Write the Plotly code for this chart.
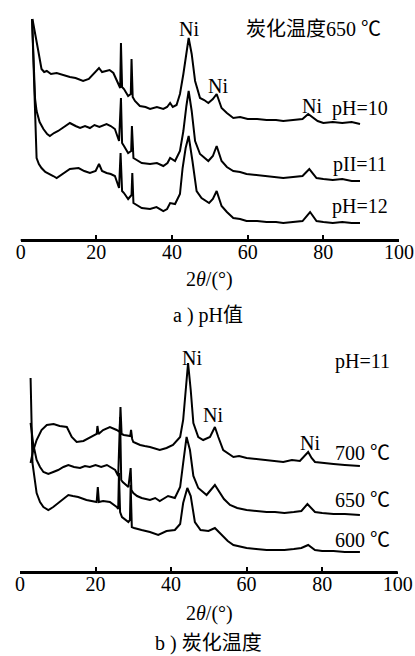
import plotly.graph_objects as go

# ---------- panel a) pH ----------
a_ph10_x = [3.1, 3.5, 4.0, 4.65, 5.5, 6.2, 6.9, 8.0, 9.5, 11.0, 13.0, 14.5, 16.5, 18.0, 19.6, 20.7, 21.5, 22.5, 23.5, 24.5, 25.8, 26.3, 26.5, 26.8, 27.3, 28.4, 29.1, 29.3, 29.6, 30.2, 31.5, 33.0, 34.2, 36.0, 37.7, 38.7, 39.5, 40.2, 41.2, 42.1, 43.0, 43.8, 44.4, 45.2, 46.1, 47.4, 48.5, 49.6, 50.8, 51.8, 53.1, 54.5, 56.2, 58.0, 60.0, 62.5, 65.0, 67.5, 69.4, 72.0, 74.5, 76.0, 77.2, 78.5, 80.0, 82.5, 85.0, 87.5, 89.7]
a_ph10_y = [221, 212, 200, 189, 171, 168, 169, 166, 167, 165, 163, 162, 159, 161, 167, 172, 168, 169, 170, 167, 156, 152, 197, 153, 151, 144, 146, 181, 143, 139, 134, 133, 131, 133, 131, 133, 137, 133, 135, 146, 166, 188, 202, 186, 159, 142, 140, 137, 141, 146, 132, 127, 122, 123, 121, 121, 120, 120, 119, 120, 121, 126, 123, 119, 117, 118, 117, 118, 116]

a_ph11_x = [3.0, 3.4, 3.8, 4.2, 5.0, 6.0, 7.0, 7.7, 8.8, 9.9, 11.5, 13.0, 14.5, 15.7, 17.0, 18.3, 19.5, 20.8, 22.7, 23.8, 24.9, 26.0, 26.5, 26.8, 27.3, 28.4, 29.2, 29.4, 29.8, 31.0, 32.0, 34.2, 36.0, 37.7, 38.8, 39.5, 40.8, 42.1, 43.0, 43.8, 44.4, 45.2, 46.1, 47.4, 48.5, 49.6, 50.8, 51.8, 53.1, 54.5, 56.2, 58.0, 59.7, 62.5, 65.0, 67.5, 69.4, 72.0, 74.5, 76.3, 77.2, 78.2, 80.0, 82.5, 85.0, 87.5, 89.7]
a_ph11_y = [221, 180, 141, 129, 118, 111, 106, 104, 107, 109, 113, 117, 114, 112, 114, 112, 115, 113, 116, 114, 111, 99, 142, 97, 94, 87, 89, 114, 82, 79, 77, 76, 77, 74, 77, 82, 79, 89, 109, 134, 149, 129, 99, 86, 82, 79, 84, 94, 79, 73, 69, 68, 66, 65, 64, 63, 62, 63, 64, 71, 67, 62, 61, 60, 61, 59, 59]

a_ph12_x = [3.0, 3.4, 3.8, 4.2, 4.8, 5.5, 6.5, 7.7, 8.6, 9.5, 11.0, 13.0, 15.3, 16.8, 18.3, 19.8, 20.7, 21.5, 22.7, 23.8, 24.9, 26.0, 26.4, 26.8, 27.3, 28.4, 29.3, 29.5, 29.8, 31.0, 32.0, 34.2, 35.9, 37.7, 38.7, 39.5, 40.8, 42.1, 42.8, 43.6, 44.4, 45.4, 46.5, 47.8, 49.8, 50.8, 51.8, 53.1, 54.5, 56.2, 58.0, 59.7, 62.5, 65.0, 67.5, 69.4, 72.0, 74.5, 76.5, 77.5, 78.2, 80.0, 82.5, 85.0, 87.5, 89.7]
a_ph12_y = [221, 170, 115, 82, 76, 72, 68, 66, 64, 62, 66, 71, 72, 69, 67, 69, 76, 69, 67, 66, 64, 52, 87, 49, 47, 41, 45, 67, 37, 34, 32, 31, 33, 29, 31, 37, 36, 46, 72, 92, 104, 79, 49, 42, 37, 41, 49, 34, 28, 22, 21, 19, 19, 18, 18, 17, 18, 19, 28, 23, 19, 18, 17, 18, 17, 17]

# ---------- panel b) carbonization temperature ----------
b_t700_x = [2.8, 3.4, 4.4, 5.7, 7.1, 8.9, 10.5, 12.4, 13.7, 15.0, 16.8, 19.0, 20.3, 20.5, 20.8, 22.0, 23.8, 25.6, 26.4, 26.6, 26.9, 27.5, 29.2, 29.4, 29.7, 30.0, 31.8, 33.0, 34.4, 37.0, 38.8, 40.5, 42.4, 43.2, 44.0, 44.5, 45.2, 45.9, 47.2, 48.5, 50.3, 51.6, 52.5, 53.8, 56.5, 58.0, 60.0, 62.5, 65.3, 67.5, 69.7, 72.0, 74.1, 76.3, 77.2, 78.1, 80.0, 83.0, 86.0, 90.0]
b_t700_y = [109, 120, 132, 142, 147, 148, 146, 145, 135, 130, 131, 135, 138, 146, 138, 142, 145, 142, 140, 165, 138, 137, 136, 142, 133, 130, 127, 126, 125, 122, 124, 127, 135, 152, 192, 209, 182, 149, 135, 132, 135, 145, 135, 122, 115, 116, 114, 113, 112, 111, 110, 112, 111, 120, 114, 110, 109, 108, 107, 106]

b_t650_x = [2.8, 3.5, 4.4, 5.3, 6.2, 7.5, 8.8, 10.1, 11.5, 12.8, 14.3, 15.9, 17.2, 18.5, 20.0, 21.5, 23.0, 25.2, 26.0, 26.5, 26.8, 27.2, 28.7, 29.3, 29.5, 30.0, 31.0, 32.2, 34.4, 35.8, 37.0, 39.2, 41.0, 42.4, 43.2, 44.1, 45.0, 45.9, 47.2, 49.4, 51.6, 52.9, 54.0, 55.6, 57.5, 60.0, 62.5, 65.3, 67.5, 70.0, 72.5, 74.5, 76.1, 77.0, 78.1, 80.0, 83.0, 86.0, 90.0]
b_t650_y = [149, 128, 112, 105, 100, 98, 100, 102, 105, 107, 105, 104, 106, 105, 107, 105, 107, 102, 96, 155, 92, 90, 85, 104, 82, 79, 76, 74, 72, 74, 71, 76, 74, 85, 109, 135, 122, 96, 84, 77, 87, 79, 73, 67, 64, 62, 61, 60, 60, 59, 60, 61, 68, 64, 60, 59, 58, 58, 57]

b_t600_x = [2.8, 3.3, 4.4, 5.3, 6.2, 7.5, 8.8, 10.1, 11.5, 12.8, 14.0, 15.4, 17.6, 20.3, 20.6, 20.9, 22.0, 23.8, 25.6, 26.0, 26.2, 26.5, 27.0, 28.7, 29.1, 29.3, 29.6, 30.2, 32.2, 34.4, 36.6, 38.8, 41.0, 42.4, 43.2, 44.3, 45.2, 46.3, 47.8, 49.9, 51.6, 53.5, 55.0, 56.5, 58.5, 60.0, 62.5, 65.3, 67.5, 70.0, 72.5, 74.5, 76.3, 77.3, 78.1, 80.0, 83.0, 86.0, 90.0]
b_t600_y = [194, 109, 79, 70, 65, 62, 65, 69, 73, 77, 76, 75, 72, 70, 85, 70, 71, 70, 65, 63, 99, 60, 55, 50, 52, 87, 45, 44, 42, 40, 37, 41, 42, 48, 69, 84, 76, 50, 42, 41, 44, 37, 31, 27, 25, 24, 23, 22, 22, 22, 23, 24, 27, 24, 22, 21, 21, 20, 20]

x_ticks = [0, 20, 40, 60, 80, 100]

FONT = "Liberation Serif, Times New Roman, Noto Sans CJK SC, serif"
INK = "black"

fig = go.Figure()

for xs, ys in [(a_ph10_x, a_ph10_y), (a_ph11_x, a_ph11_y), (a_ph12_x, a_ph12_y)]:
    fig.add_trace(go.Scatter(x=xs, y=ys, mode="lines", xaxis="x", yaxis="y",
                             line=dict(color=INK, width=2), showlegend=False))
for xs, ys in [(b_t700_x, b_t700_y), (b_t650_x, b_t650_y), (b_t600_x, b_t600_y)]:
    fig.add_trace(go.Scatter(x=xs, y=ys, mode="lines", xaxis="x2", yaxis="y2",
                             line=dict(color=INK, width=2), showlegend=False))

xaxis_common = dict(range=[0, 100], tickvals=x_ticks, ticks="inside", ticklen=5, tickwidth=1.5,
                    tickcolor=INK, showline=True, linecolor=INK, linewidth=2, showgrid=False,
                    zeroline=False, automargin=False, ticklabelstandoff=-7,
                    tickfont=dict(family=FONT, size=20, color=INK))
yaxis_common = dict(range=[0, 230], showticklabels=False, showgrid=False, zeroline=False,
                    automargin=False)

fig.update_layout(
    width=415, height=656,
    margin=dict(l=0, r=0, t=0, b=0),
    showlegend=False,
    paper_bgcolor="white", plot_bgcolor="white",
    xaxis=dict(domain=[0.0499, 0.9614], anchor="y", **xaxis_common),
    yaxis=dict(domain=[0.6341, 0.9848], anchor="x", **yaxis_common),
    xaxis2=dict(domain=[0.0482, 0.9583], anchor="y2", **xaxis_common),
    yaxis2=dict(domain=[0.1280, 0.4787], anchor="x2", **yaxis_common),
)

# baseline along each x axis (backup for the axis line)
for xr, yr in [("x", "y"), ("x2", "y2")]:
    fig.add_shape(type="line", xref=xr + " domain", yref=yr + " domain", x0=0, x1=1, y0=0, y1=0,
                  line=dict(color=INK, width=2), layer="above")

def ann(text, x, y, xr, yr, size=20, xanchor="center"):
    fig.add_annotation(text=text, x=x, y=y, xref=xr, yref=yr, showarrow=False,
                       xanchor=xanchor, yanchor="middle",
                       font=dict(family=FONT, size=size, color=INK))

# panel a labels
ann("Ni", 44.4, 211, "x", "y")
ann("Ni", 52.2, 154, "x", "y")
ann("Ni", 77.0, 134, "x", "y")
ann("pH=10", 89.7, 132, "x", "y")
ann("pII=11", 89.7, 76, "x", "y")
ann("pH=12", 89.7, 34, "x", "y")
ann("炭化温度650 ℃", 77.3, 211, "x", "y")

# panel b labels
ann("Ni", 45.5, 214, "x2", "y2")
ann("Ni", 51.2, 157, "x2", "y2")
ann("Ni", 76.8, 129, "x2", "y2")
ann("700 ℃", 90.8, 119, "x2", "y2")
ann("650 ℃", 90.8, 72, "x2", "y2")
ann("600 ℃", 90.8, 32, "x2", "y2")
ann("pH=11", 90.8, 210, "x2", "y2")

# axis titles and captions (paper coordinates)
def pann(text, xpx, ypx, size=20):
    fig.add_annotation(text=text, x=xpx / 415, y=1 - ypx / 656, xref="paper", yref="paper",
                       showarrow=False, xanchor="center", yanchor="middle",
                       font=dict(family=FONT, size=size, color=INK))

pann("2<i>θ</i>/(°)", 210, 280)
pann("a ) pH值", 208, 315)
pann("2<i>θ</i>/(°)", 210, 613)
pann("b ) 炭化温度", 208, 643)

fig.write_html("out.html", config={"displayModeBar": False},
               post_script="document.body.style.margin='0';")
